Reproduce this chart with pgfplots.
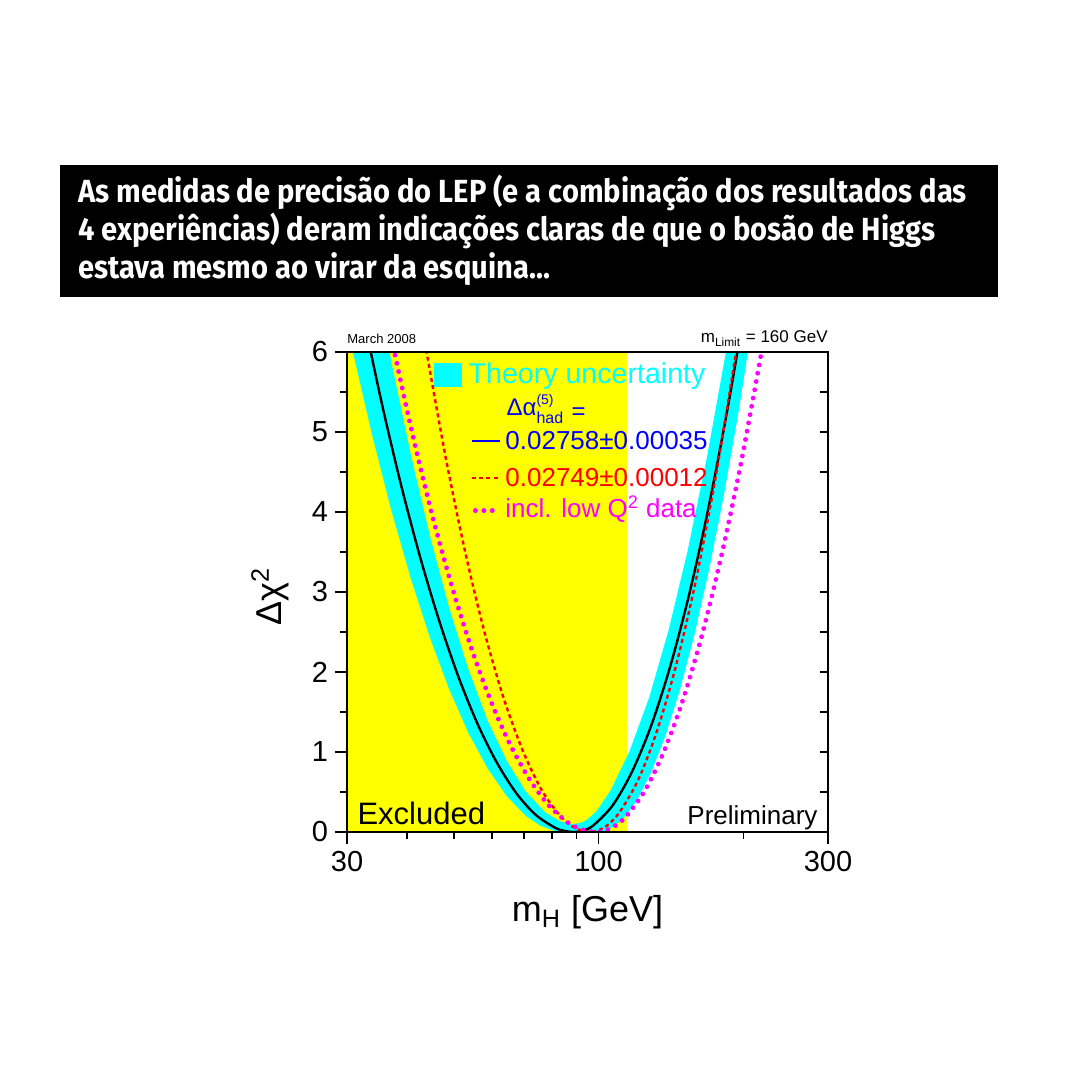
\documentclass[border=0pt]{standalone}
\usepackage{fontspec}
\setmainfont{Liberation Sans}
\newfontfamily\titlefont[FakeStretch=0.91]{Fira Sans}
\usepackage{amsmath}
\usepackage{pgfplots}
\pgfplotsset{compat=1.18}

\definecolor{bandcyan}{RGB}{0,255,255}
\definecolor{hblue}{RGB}{0,0,255}
\definecolor{hred}{RGB}{255,0,0}
\definecolor{hmag}{RGB}{255,0,255}
\definecolor{hyellow}{RGB}{255,255,0}

\newcommand\setsize[1]{\fontsize{#1}{#1}\selectfont}

\begin{document}
\begin{tikzpicture}
\fill[white] (0pt,0pt) rectangle (540pt,540pt);

% headline box
\fill[black] (30pt,391.5pt) rectangle (499pt,457.5pt);
\begin{scope}[every node/.style={anchor=base west, inner sep=0pt, text=white, font=\titlefont\bfseries\setsize{16}}]
\node at (39pt,438.5pt) {As medidas de precisão do LEP (e a combinação dos resultados das};
\node at (39pt,419.5pt) {4 experiências) deram indicações claras de que o bosão de Higgs};
\node at (39pt,400.5pt) {estava mesmo ao virar da esquina...};
\end{scope}

\begin{axis}[
at={(173.5pt,124pt)},
scale only axis,
width=240.5pt, height=240pt,
xmode=log,
xmin=30, xmax=300,
ymin=0, ymax=6,
clip mode=individual,
axis on top,
axis line style={line width=1pt},
tick align=outside,
xtick pos=left, ytick pos=left,
major tick length=6pt, minor tick length=3.5pt,
every tick/.style={line width=0.8pt, black},
xtick={30,100,300},
xticklabels={30,100,300},
minor xtick={40,50,60,70,80,90,200},
ytick={0,1,2,3,4,5,6},
minor ytick={0.5,1.5,2.5,3.5,4.5,5.5},
/pgf/number format/assume math mode=true,
tick label style={font=\setsize{14.5}},
xlabel={m$_{\text{H}}$ [GeV]},
xlabel style={font=\setsize{18}, at={(axis description cs:0.5,-0.168)}, anchor=center},
ylabel={Δχ\textsuperscript{2}},
ylabel style={font=\setsize{18}, at={(axis description cs:-0.16,0.49)}, anchor=center},
]

% excluded region
\addplot[fill=hyellow, draw=none] coordinates {
(30,0) (114.4,0) (114.4,6) (30,6)
};

% theory uncertainty band: outer (lower) edge left to right, inner (upper) edge back
\addplot[fill=bandcyan, draw=none] coordinates {
(29,6.9) (30,6.34) (30.86,6.0) (33.84,4.96) (37.1,4.018) (40.69,3.174) (44.62,2.43)
(48.91,1.786) (53.63,1.24) (58.82,0.794) (64.49,0.446) (70.72,0.198)
(75.76,0.0775) (81.18,0.0124) (85,0) (100,0) (104.7,0.0248) (112.2,0.155)
(120.2,0.397) (128.8,0.75) (138.0,1.215) (147.9,1.792) (158.5,2.48)
(169.8,3.28) (182.0,4.19) (195.0,5.214) (208.9,6.349) (218.8,7.17)
(192.9,6.74) (184.2,6.011) (168.0,4.68) (153.2,3.515) (139.8,2.517)
(127.5,1.685) (116.2,1.019) (106.0,0.52) (98.9,0.255) (94.5,0.15)
(92,0.115) (89,0.1) (86,0.109) (83.06,0.136) (77.53,0.244) (70.69,0.5)
(64.49,0.884) (58.78,1.396) (53.61,2.036) (48.90,2.804) (44.61,3.7)
(40.68,4.724) (37.10,5.876) (35.43,6.5)
};

% central fit
\addplot[black, line width=1.2pt, smooth] coordinates {
(32.32,6.486) (35.43,5.36) (38.85,4.342) (42.60,3.43) (46.72,2.626)
(51.21,1.93) (56.15,1.34) (61.59,0.858) (67.53,0.482) (74.04,0.214)
(81.20,0.054) (84.99,0.0134) (89,0) (93.2,0.0208) (97.59,0.083) (107.0,0.333)
(117.3,0.749) (128.7,1.331) (141.1,2.08) (154.7,2.995) (169.6,4.077)
(185.9,5.325) (203.9,6.739)
};

% alternative hadronic contribution
\addplot[hred, line width=1.2pt, dash pattern=on 2pt off 1.6pt, smooth] coordinates {
(41.9,6.74) (43.88,6.011) (48.12,4.68) (52.75,3.515) (57.83,2.517)
(63.41,1.685) (69.57,1.019) (76.25,0.52) (83.62,0.187) (89.6,0.047) (96,0)
(102.9,0.0585) (110.2,0.234) (120.9,0.65) (132.5,1.274) (145.3,2.106)
(159.4,3.146) (174.7,4.394) (191.5,5.85) (200.6,6.656)
};

% including low Q^2 data
\addplot[hmag, line width=2.4pt, line cap=round, dash pattern=on 0.01pt off 4.2pt, smooth] coordinates {
(35.95,6.58) (37.64,5.998) (41.27,4.91) (45.25,3.93) (49.62,3.06)
(54.40,2.298) (59.64,1.646) (65.39,1.102) (71.74,0.666) (78.63,0.34)
(86.24,0.122) (92.39,0.031) (99,0) (106.1,0.046) (113.7,0.184) (124.6,0.51)
(136.6,1.0) (149.8,1.652) (164.2,2.468) (180.0,3.448) (197.5,4.59)
(216.6,5.896) (226.8,6.61)
};

% key
\fill[bandcyan] (axis description cs:0.181,0.927) rectangle (axis description cs:0.239,0.977);
\node[anchor=west, inner sep=0pt, text=bandcyan, font=\setsize{14.3}] at (axis description cs:0.252,0.949) {Theory uncertainty};
\node[anchor=base west, inner sep=0pt, text=hblue, font=\setsize{12}] at (axis description cs:0.331,0.8673)
  {Δα\rlap{\raisebox{5.7pt}{\setsize{7}(5)}}\raisebox{-4.15pt}{\setsize{8}had}\hspace{4.2pt}\raisebox{-2pt}{=}};
\draw[hblue, line width=1pt] (axis description cs:0.26,0.8146) -- (axis description cs:0.318,0.8146);
\node[anchor=west, inner sep=0pt, text=hblue, font=\setsize{13}] at (axis description cs:0.3285,0.8146) {0.02758±0.00035};
\draw[hred, line width=1.2pt, dash pattern=on 2pt off 1.6pt] (axis description cs:0.26,0.7375) -- (axis description cs:0.318,0.7375);
\node[anchor=west, inner sep=0pt, text=hred, font=\setsize{13}] at (axis description cs:0.3285,0.7375) {0.02749±0.00012};
\draw[hmag, line width=2.4pt, line cap=round, dash pattern=on 0.01pt off 4.2pt] (axis description cs:0.267,0.669) -- (axis description cs:0.305,0.669);
\node[anchor=west, inner sep=0pt, text=hmag, font=\setsize{13}] at (axis description cs:0.3285,0.672) {incl. low Q\textsuperscript{2} data};

\node[anchor=base west, inner sep=0pt, font=\setsize{15.5}] at (axis description cs:0.021,0.015) {Excluded};
\node[anchor=base east, inner sep=0pt, font=\setsize{13}] at (axis description cs:0.979,0.015) {Preliminary};
\node[anchor=base west, inner sep=0pt, font=\setsize{6.5}, yshift=4pt] at (axis description cs:0,1) {March 2008};
\node[anchor=base east, inner sep=0pt, font=\setsize{8.5}, yshift=4.5pt] at (axis description cs:1,1) {m$_{\text{Limit}}$ = 160 GeV};
\end{axis}

% right-hand ticks, pointing inwards
\begin{axis}[
at={(173.5pt,124pt)},
scale only axis,
width=240.5pt, height=240pt,
xmin=0, xmax=1,
ymin=0, ymax=6,
xtick=\empty,
ytick pos=right,
axis line style={line width=1pt},
tick align=inside,
ytick={0,1,2,3,4,5,6},
minor ytick={0.5,1.5,2.5,3.5,4.5,5.5},
yticklabels={},
major tick length=4pt, minor tick length=4pt,
every tick/.style={line width=0.8pt, black},
]
\addplot[draw=none] coordinates {(0,0) (1,6)};
\end{axis}
\end{tikzpicture}
\end{document}
